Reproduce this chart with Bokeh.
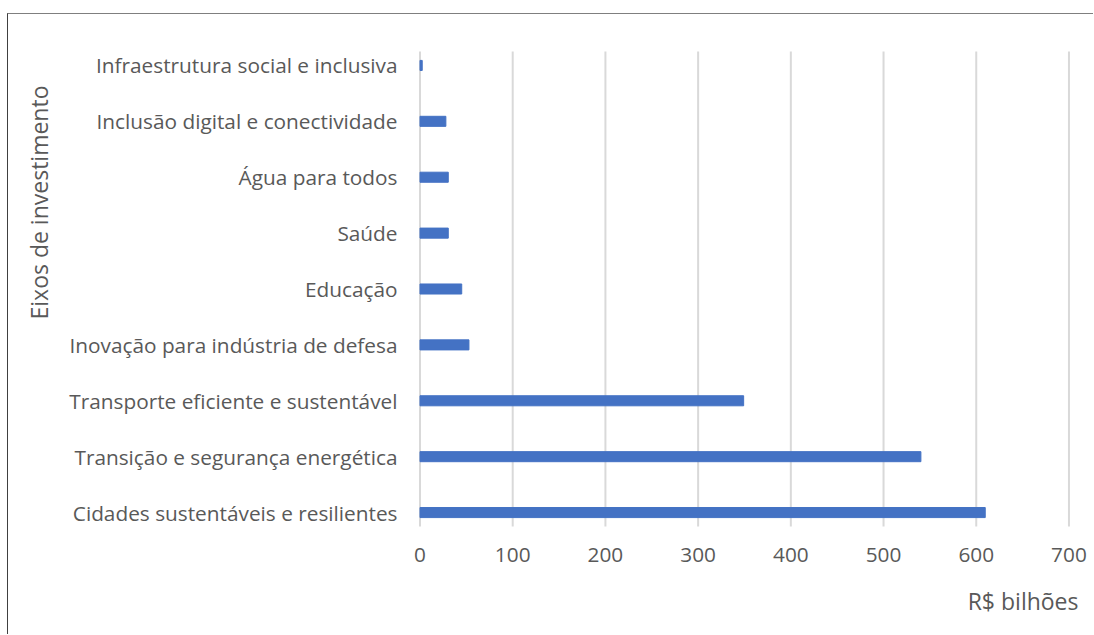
from bokeh.plotting import figure
from bokeh.models import Range1d, FixedTicker, Title
from bokeh.embed import file_html
from bokeh.resources import INLINE

categories = [
    "Infraestrutura social e inclusiva",
    "Inclusão digital e conectividade",
    "Água para todos",
    "Saúde",
    "Educação",
    "Inovação para indústria de defesa",
    "Transporte eficiente e sustentável",
    "Transição e segurança energética",
    "Cidades sustentáveis e resilientes",
]
values = [2.4, 27.9, 30.5, 30.5, 45.0, 52.8, 349.1, 540.3, 609.7]
x_ticks = [0, 100, 200, 300, 400, 500, 600, 700]
x_title = "R$ bilhões"
y_title = "Eixos de investimento"

FONT = "Open Sans"
TXT = "#595959"
n = len(categories)
ypos = [n - 0.5 - i for i in range(n)]

p = figure(width=1086, height=621, output_backend="svg", toolbar_location=None,
           x_range=Range1d(-2.7, 704.9), y_range=Range1d(0, n),
           min_border_left=300, min_border_right=21, min_border_top=23, min_border_bottom=95,
           outline_line_color=None,
           styles={"margin-left": "7px", "margin-top": "13px",
                   "border-left": "1px solid #404040", "border-top": "1px solid #7f7f7f"})

p.xgrid.visible = False
p.ygrid.visible = False

p.segment(x0=x_ticks, x1=x_ticks, y0=[0.25] * len(x_ticks), y1=[n - 0.25] * len(x_ticks),
          line_color="#d9d9d9", line_width=2)
p.hbar(y=ypos, right=values, left=0, height=0.18, fill_color="#4472c4", line_color="#4472c4")

p.xaxis.ticker = FixedTicker(ticks=x_ticks)
p.yaxis.ticker = FixedTicker(ticks=ypos)
p.yaxis.major_label_overrides = {y: c for y, c in zip(ypos, categories)}

for ax in (p.xaxis[0], p.yaxis[0]):
    ax.axis_line_color = None
    ax.major_tick_line_color = None
    ax.minor_tick_line_color = None
    ax.major_tick_out = 0
    ax.major_label_text_font = FONT
    ax.major_label_text_font_size = "20.8px"
    ax.major_label_text_color = TXT
p.yaxis.major_label_standoff = 20
p.xaxis.major_label_standoff = 7

p.add_layout(Title(text=x_title, align="right", offset=-5, standoff=37,
                   text_font=FONT, text_font_size="23px", text_font_style="normal",
                   text_color=TXT), "below")
p.add_layout(Title(text=y_title, align="right", offset=48, standoff=23.6,
                   text_font=FONT, text_font_size="23px", text_font_style="normal",
                   text_color=TXT), "left")

open("out.html", "w").write(file_html(p, INLINE))
